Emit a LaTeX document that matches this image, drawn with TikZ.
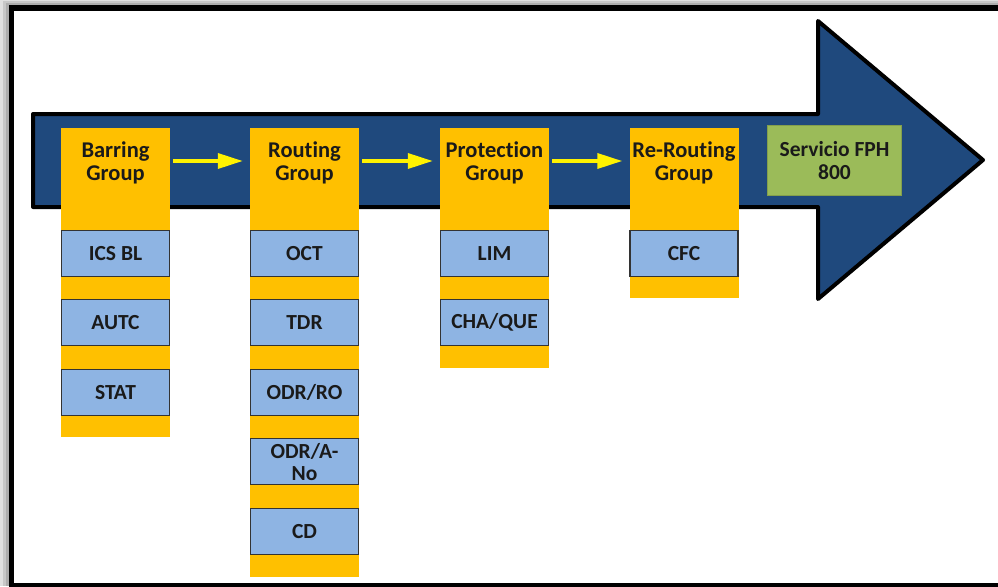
\documentclass[tikz,border=0pt]{standalone}
\usepackage{fontspec}
\setmainfont[Ligatures={NoCommon}]{Carlito}
\usetikzlibrary{arrows.meta}
\definecolor{navy}{HTML}{1F497D}
\definecolor{amber}{HTML}{FFC000}
\definecolor{sky}{HTML}{8EB4E3}
\definecolor{olive}{HTML}{9BBB59}
\definecolor{ink}{HTML}{1A1A1A}
\tikzset{
  column/.style={fill=amber, draw=none, minimum width=109pt, inner sep=0pt, anchor=north},
  grouplabel/.style={minimum width=109pt, minimum height=68pt, inner sep=0pt, align=center,
    font=\bfseries\fontsize{22.5}{23}\selectfont, text=ink},
  item/.style={fill=sky, draw=black!80, line width=1.3pt, minimum width=108pt, minimum height=46pt,
    inner sep=0pt, anchor=north, align=center, font=\bfseries\fontsize{21.5}{22}\selectfont, text=ink},
  flow/.style={draw=yellow, line width=3.5pt, -{Triangle[length=25pt,width=15pt]},
    shorten <=3pt, shorten >=7pt},
}
\begin{document}
\begin{tikzpicture}[x=1pt,y=-1pt]
\useasboundingbox (0,0) rectangle (998,586);
% soft drop shadow behind the frame
\fill[black!12] (0,0) rectangle (998,586);
\fill[black!22] (3,1.5) rectangle (998,586);
\fill[black!32] (6,3) rectangle (998,586);
% frame
\filldraw[fill=white, draw=black, line width=5.5pt] (11.5,8) rectangle (1010,585.5);

% big process arrow
\filldraw[fill=navy, draw=black, line width=4pt, line join=round]
  (33,114) -- (818,114) -- (818,21) -- (983,160) -- (818,299) -- (818,207) -- (33,207) -- cycle;

% orange group columns
\node[column, minimum height=309pt] (c1) at (115.5,128) {};
\node[column, minimum height=449pt] (c2) at (304.5,128) {};
\node[column, minimum height=240pt] (c3) at (494.5,128) {};
\node[column, minimum height=170pt] (c4) at (684,128) {};

% group titles
\node[grouplabel] (g1) at (115.5,162.5) {Barring\\Group};
\node[grouplabel] (g2) at (304.5,162.5) {Routing\\Group};
\node[grouplabel] (g3) at (494.5,162.5) {Protection\\Group};
\node[grouplabel] (g4) at (684,162.5) {Re-Routing\\Group};

% final service
\node[fill=olive, draw=olive!85!black, line width=0.8pt, minimum width=134pt, minimum height=70pt,
  inner sep=0pt, align=center, font=\bfseries\fontsize{21.5}{23}\selectfont, text=ink]
  (srv) at (834.5,160.5) {Servicio FPH\\800};

% flow between groups
\draw[flow] ([yshift=1.5pt]g1.east) -- ([yshift=1.5pt]g2.west);
\draw[flow] ([yshift=1.5pt]g2.east) -- ([yshift=1.5pt]g3.west);
\draw[flow] ([yshift=1.5pt]g3.east) -- ([yshift=1.5pt]g4.west);

% Barring group items
\node[item] (icsbl) at (115.5,230) {ICS BL};
\node[item] (autc) at (115.5,299) {AUTC};
\node[item] (stat) at (115.5,369) {STAT};

% Routing group items
\node[item] (oct) at (304.5,230) {OCT};
\node[item] (tdr) at (304.5,299) {TDR};
\node[item] (odrro) at (304.5,369) {ODR/RO};
\node[item] (odra) at (304.5,438) {ODR/A-\\No};
\node[item] (cd) at (304.5,508) {CD};

% Protection group items
\node[item] (lim) at (494.5,230) {LIM};
\node[item] (chaque) at (494.5,299) {CHA/QUE};

% Re-Routing group items
\node[item] (cfc) at (684,230) {CFC};
\end{tikzpicture}
\end{document}
